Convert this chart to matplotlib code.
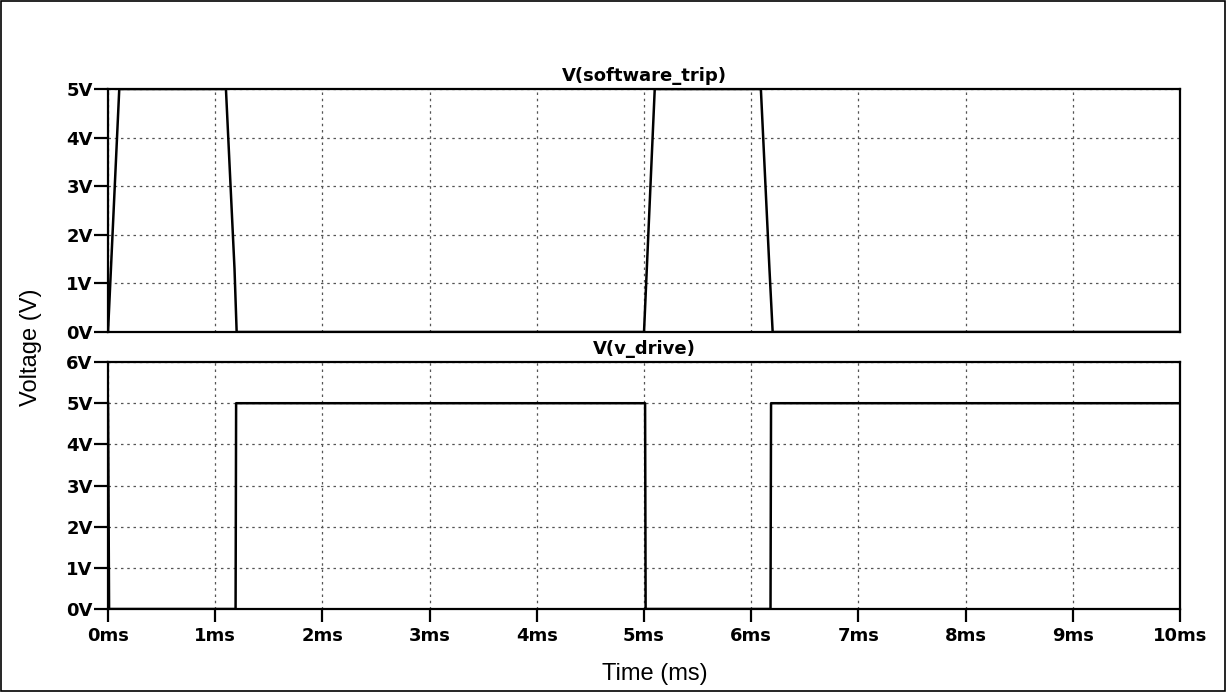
import matplotlib.pyplot as plt
from matplotlib.patches import Rectangle
from matplotlib.ticker import FuncFormatter

# LTspice transient traces (time in ms, voltage in V)
trip_t = [0.0, 0.105, 1.10, 1.18, 1.20, 5.00, 5.10, 6.09, 6.17, 6.20, 10.0]
trip_v = [0.0, 5.0, 5.0, 1.3, 0.0, 0.0, 5.0, 5.0, 1.3, 0.0, 0.0]

drive_t = [0.0, 0.01, 1.19, 1.195, 5.01, 5.015, 6.18, 6.185, 10.0]
drive_v = [5.0, 0.0, 0.0, 5.0, 5.0, 0.0, 0.0, 5.0, 5.0]

x_ticks = list(range(0, 11))
trip_yticks = list(range(0, 6))
drive_yticks = list(range(0, 7))

plt.rcParams["font.family"] = ["Liberation Sans", "DejaVu Sans"]
bold_font = ["DejaVu Sans"]

fig = plt.figure(figsize=(12.26, 6.92), dpi=100)
ax1 = fig.add_axes([0.0881, 0.5202, 0.8744, 0.3512])
ax2 = fig.add_axes([0.0881, 0.1199, 0.8744, 0.3569])

def style(ax, yticks, ymax, title):
    ax.set_xlim(0, 10)
    ax.set_ylim(0, ymax)
    ax.set_xticks(x_ticks)
    ax.set_yticks(yticks)
    ax.grid(True, linestyle=(0, (2, 3)), color="#555555", linewidth=0.9)
    for s in ax.spines.values():
        s.set_linewidth(1.6)
        s.set_color("black")
    ax.tick_params(axis="y", direction="out", length=10, width=1.6, pad=1)
    ax.tick_params(axis="x", direction="out", length=9, width=1.6, pad=4)
    ax.yaxis.set_major_formatter(FuncFormatter(lambda v, p: f"{v:g}V"))
    for lab in ax.get_yticklabels():
        lab.set_fontweight("bold")
        lab.set_family(bold_font)
        lab.set_fontsize(13)
    ax.set_title(title, fontsize=13, fontweight="bold", family=bold_font, pad=6)

ax1.plot(trip_t, trip_v, color="black", linewidth=1.8)
style(ax1, trip_yticks, 5, "V(software_trip)")
ax1.tick_params(axis="x", length=0, labelbottom=False)

ax2.plot(drive_t, drive_v, color="black", linewidth=1.8)
style(ax2, drive_yticks, 6, "V(v_drive)")
ax2.xaxis.set_major_formatter(FuncFormatter(lambda v, p: f"{v:g}ms"))
for lab in ax2.get_xticklabels():
    lab.set_fontweight("bold")
    lab.set_family(bold_font)
    lab.set_fontsize(13)

fig.text(0.025, 0.498, "Voltage (V)", rotation=90, ha="center", va="center", fontsize=17)
fig.text(0.534, 0.026, "Time (ms)", ha="center", va="center", fontsize=17)

# frame around the whole window
fig.patches.append(Rectangle((0.0008, 0.0014), 0.9984, 0.9972, transform=fig.transFigure,
                             fill=False, edgecolor="black", linewidth=1.2))

plt.savefig("out.png", dpi=100)
